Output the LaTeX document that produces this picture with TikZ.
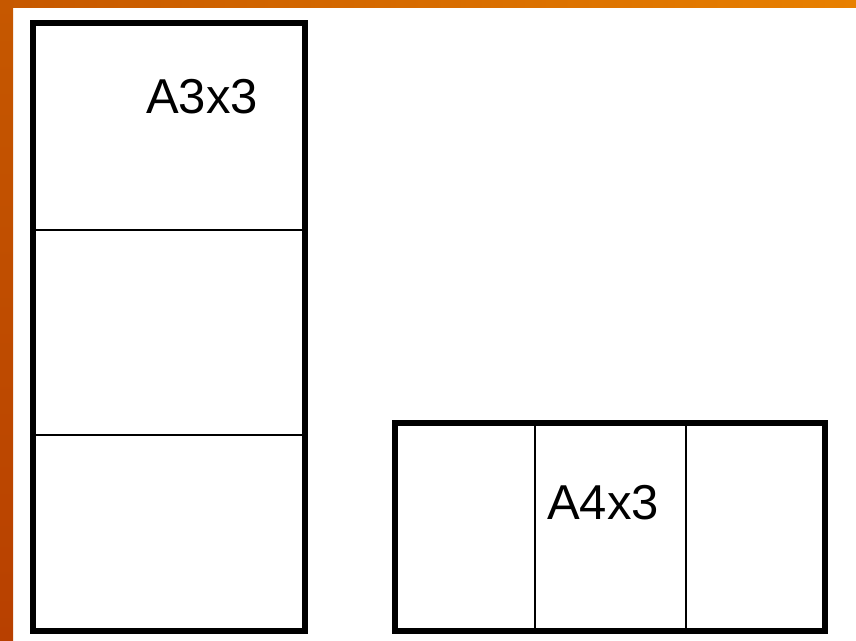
\documentclass[tikz,border=0pt]{standalone}
\usepackage{fontspec}
\setmainfont{Liberation Sans}
\definecolor{orA}{RGB}{198,88,0}
\definecolor{orB}{RGB}{232,128,0}
\definecolor{orC}{RGB}{184,64,0}
\tikzset{
  thickbox/.style={draw=black,line width=5.5pt},
  thinline/.style={draw=black,line width=2pt},
  lbl/.style={font=\fontsize{49}{49}\selectfont,inner sep=0pt}
}
\begin{document}
\begin{tikzpicture}[x=1pt,y=-1pt]
\useasboundingbox (0,0) rectangle (856,640);
\fill[white] (0,0) rectangle (856,640);
\shade[left color=orA,right color=orB] (0,0) rectangle (856,7);
\shade[top color=orA,bottom color=orC] (0,0) rectangle (13,640);
% left column
\draw[thinline] (33,230) -- (305,230);
\draw[thinline] (33,435) -- (305,435);
\draw[thickbox] (33,23) rectangle (305,631);
\node[lbl] (a3) at (202,97) {A3x3};
% right row
\draw[thinline] (535,423) -- (535,631);
\draw[thinline] (686,423) -- (686,631);
\draw[thickbox] (395,423) rectangle (825,631);
\node[lbl] (a4) at (603,503) {A4x3};
\end{tikzpicture}
\end{document}
